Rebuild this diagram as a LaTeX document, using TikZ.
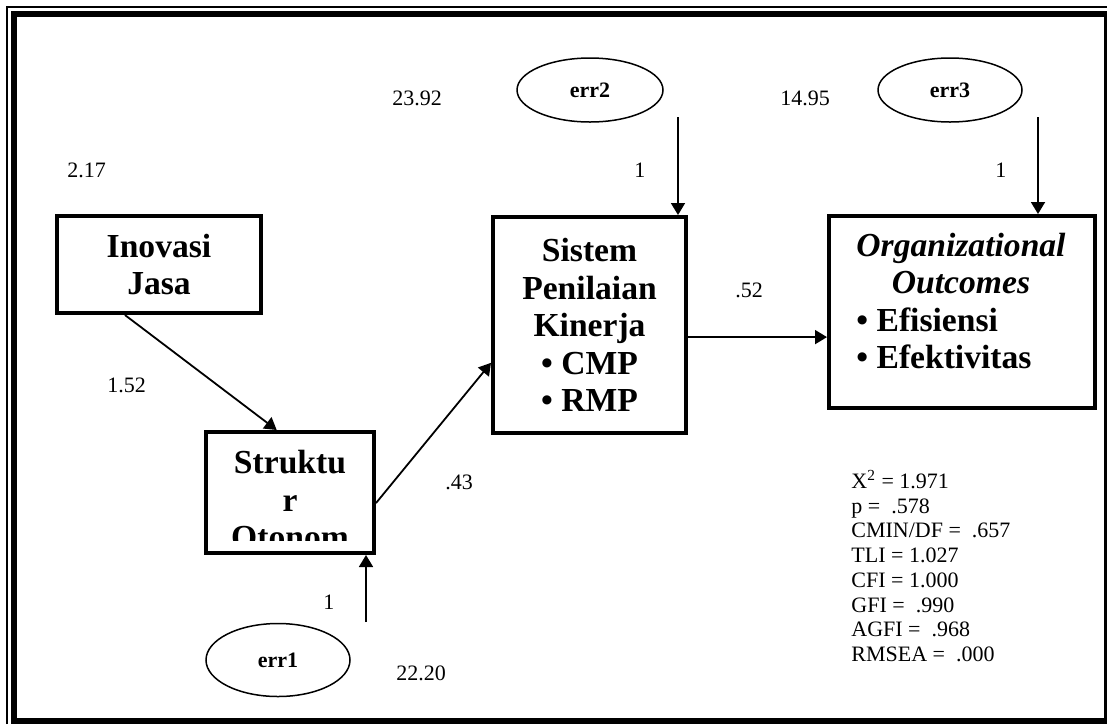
\documentclass[tikz,border=0pt]{standalone}
\usepackage{fontspec}
\setmainfont{Liberation Serif}
\usepackage{tikz}
\usetikzlibrary{shapes,arrows.meta,positioning}

\begin{document}
\begin{tikzpicture}[x=0.5pt, y=-0.5pt,
	box/.style={draw, line width=2pt, rectangle, inner sep=0pt, font=\fontsize{16.8}{18.7}\selectfont\bfseries, align=center},
	errnode/.style={draw, line width=0.75pt, ellipse, inner sep=0pt, font=\fontsize{11}{13}\selectfont\bfseries},
	num/.style={anchor=west, inner sep=0pt, font=\fontsize{11}{13}\selectfont},
	path/.style={line width=0.9pt, -{Triangle[length=6pt,width=7pt]}}]
	\useasboundingbox (0,0) rectangle (1107,724);
	\draw[line width=0.75pt] (7,724) -- (7,7) -- (1107,7);
	\draw[line width=3pt] (14,14) rectangle (1107,721);
	\node[box, minimum width=102pt, minimum height=48.5pt] (inovasi) at (159,264.5) {Inovasi\\Jasa};
	\node[box, minimum width=96.5pt, minimum height=108pt] (sistem) at (589.5,325) {Sistem\\Penilaian\\Kinerja\\\textbullet{} CMP\\\textbullet{} RMP};
	\node[box, minimum width=133pt, minimum height=96pt] (org) at (962,312) {};
	\node[inner sep=0pt, font=\fontsize{16.8}{18.7}\selectfont\bfseries] (orgtext) at (961,305) {\begin{tabular}{@{}l@{}}\multicolumn{1}{@{}c@{}}{\itshape Organizational}\\\multicolumn{1}{@{}c@{}}{\itshape Outcomes}\\\textbullet{} Efisiensi\\\textbullet{} Efektivitas\end{tabular}};
	\node[box, minimum width=84pt, minimum height=60.5pt] (struktur) at (290,492.5) {};
	\begin{scope}
	\clip (208,434) rectangle (372,540);
	\node[anchor=north, inner sep=0pt, align=center, font=\fontsize{16.8}{18.7}\selectfont\bfseries] (strukturtext) at (290,450) {Struktu\\r\\Otonom};
	\end{scope}
	\node[errnode, minimum width=72pt, minimum height=36.5pt] (err1) at (278,660) {err1};
	\node[errnode, minimum width=73pt, minimum height=32pt] (err2) at (590,90) {err2};
	\node[errnode, minimum width=72pt, minimum height=32pt] (err3) at (950,90) {err3};
	\coordinate (e1s) at (366,622);
	\coordinate (e2s) at (678,117);
	\coordinate (e3s) at (1038,117);
	\draw[path] (inovasi.236.6) -- (struktur.102);
	\draw[path] (struktur.-7) -- (sistem.201.5);
	\draw[path] (sistem.-7) -- (sistem.-7 -| org.west);
	\draw[path] (e1s) -- (e1s |- struktur.south);
	\draw[path] (e2s) -- (e2s |- sistem.north);
	\draw[path] (e3s) -- (e3s |- org.north);
	\node[num] (v217) at (67,170) {2.17};
	\node[num] (v2392) at (392,98) {23.92};
	\node[num] (v152) at (107,385) {1.52};
	\node[num] (w2) at (634,170) {1};
	\node[num] (v1495) at (780,98) {14.95};
	\node[num] (w3) at (995,170) {1};
	\node[num] (v52) at (735,290) {.52};
	\node[num] (v43) at (445,482) {.43};
	\node[num] (w1) at (323,602) {1};
	\node[num] (v2220) at (396,673) {22.20};
	\node[anchor=north west, inner sep=0pt, align=left, font=\fontsize{11}{12.35}\selectfont] (fit) at (851,470) {X\textsuperscript{2} = 1.971\\p = \ .578\\CMIN/DF = \ .657\\TLI = 1.027\\CFI = 1.000\\GFI = \ .990\\AGFI = \ .968\\RMSEA = \ .000};
\end{tikzpicture}
\end{document}
